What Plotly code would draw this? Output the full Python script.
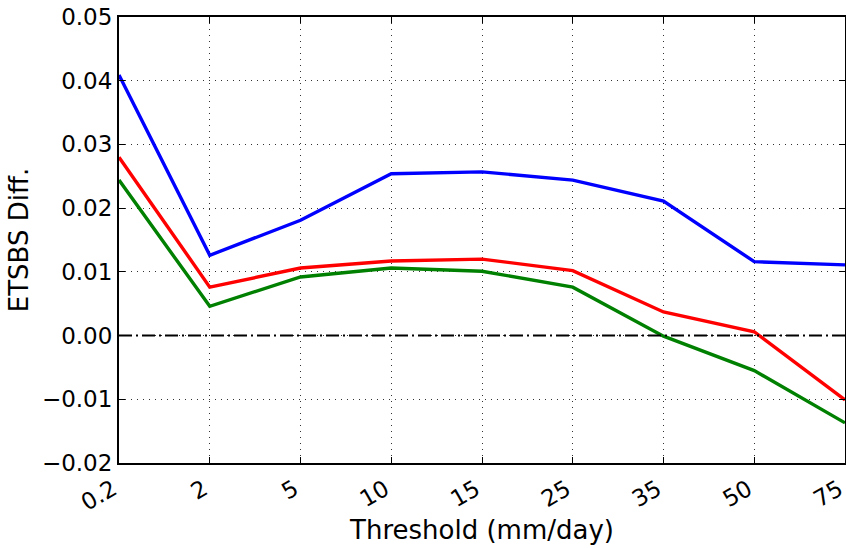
import plotly.graph_objects as go

thresholds = ["0.2", "2", "5", "10", "15", "25", "35", "50", "75"]
blue_vals = [0.0409, 0.0126, 0.0181, 0.0254, 0.0257, 0.0244, 0.0211, 0.0116, 0.0111]
red_vals = [0.0280, 0.0076, 0.0106, 0.0117, 0.0120, 0.0102, 0.0037, 0.0006, -0.0101]
green_vals = [0.0244, 0.0046, 0.0092, 0.0106, 0.0101, 0.0076, -0.0001, -0.0055, -0.0137]
y_ticks = [-0.02, -0.01, 0.0, 0.01, 0.02, 0.03, 0.04, 0.05]

FONT = "DejaVu Sans"
fig = go.Figure()
for vals, col in [(blue_vals, "#0000ff"), (red_vals, "#ff0000"), (green_vals, "#008000")]:
    fig.add_trace(go.Scatter(x=list(range(len(thresholds))), y=vals, mode="lines",
                             line=dict(color=col, width=3.4), showlegend=False))

fig.add_hline(y=0, line=dict(color="black", width=2, dash="13px,4px,2px,4px"), layer="above")

grid_common = dict(
    ticks="inside", ticklen=6, tickcolor="black", tickwidth=1,
    showline=True, linecolor="black", linewidth=2, mirror="ticks",
    showgrid=True, gridcolor="#333333", griddash="1px,5px", gridwidth=1.3,
    zeroline=False, tickfont=dict(size=23), ticklabeloverflow="allow",
    automargin=False,
)

fig.update_layout(
    width=846, height=548,
    margin=dict(l=119, r=1, t=17, b=85, autoexpand=False),
    plot_bgcolor="white", paper_bgcolor="white",
    font=dict(family=FONT, size=23, color="black"),
    xaxis=dict(
        range=[0, len(thresholds) - 1],
        tickvals=list(range(len(thresholds))), ticktext=thresholds,
        tickangle=-30, ticklabelshift=-6, ticklabelstandoff=2,
        title=dict(text="Threshold (mm/day)", font=dict(size=26), standoff=6),
        **grid_common,
    ),
    yaxis=dict(
        range=[-0.02, 0.05], tickvals=y_ticks, tickformat=".2f",
        title=dict(text="ETSBS Diff.", font=dict(size=26), standoff=6),
        **grid_common,
    ),
)
fig.write_html("out.html")
